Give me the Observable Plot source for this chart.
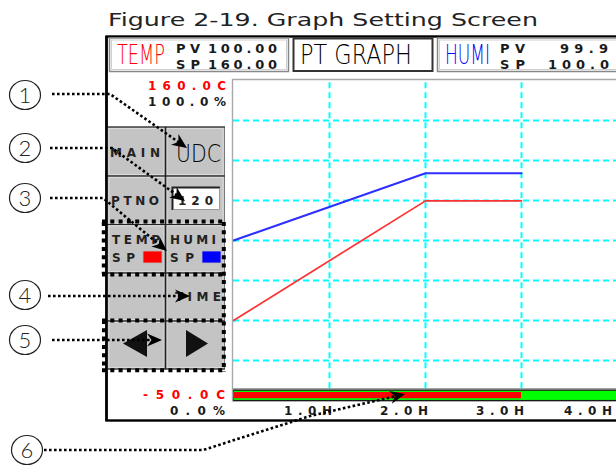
<!DOCTYPE html>
<html><head><meta charset="utf-8">
<script src="https://cdn.jsdelivr.net/npm/d3@7"></script>
<script src="https://cdn.jsdelivr.net/npm/@observablehq/plot@0.6"></script>
<style>
html,body{margin:0;padding:0;background:#fff;overflow:hidden;}
#chart svg{display:block;overflow:hidden;}
</style></head><body><div id="chart"></div>
<script>
// ---- data ----
const hours = [0, 2, 3];
const tempSP = [2.5, 81, 81];          // °C
const humiSP = [50, 71, 71];           // %
const tempRange = [-50, 160];          // °C axis range
const humiRange = [0, 100];            // % axis range
const timeDomain = [0, 4];
const xTicks = [1, 2, 3, 4];
const xTickLabels = ["1.0H", "2.0H", "3.0H", "4.0H"];
const yGridPct = [12.5, 25, 37.5, 50, 62.5, 75, 87.5];
const progressHours = 3;
const title = "Figure 2-19. Graph Setting Screen";
const tempHeader = {name: "TEMP", pv: "100.00", sp: "160.00"};
const humiHeader = {name: "HUMI", pv: "99.9", sp: "100.0"};
const centerHeader = "PT GRAPH";
const yLabels = {tempTop: "160.0C", humiTop: "100.0%", tempBottom: "-50.0C", humiBottom: "0.0%"};
const callouts = ["1", "2", "3", "4", "5", "6"];

// ---- derived ----
const tempPct = t => (t - tempRange[0]) / (tempRange[1] - tempRange[0]) * 100;
const tempData = hours.map((h, i) => ({h, v: tempPct(tempSP[i])}));
const humiData = hours.map((h, i) => ({h, v: (humiSP[i] - humiRange[0]) / (humiRange[1] - humiRange[0]) * 100}));

const plot = Plot.plot({
  width: 616, height: 467, margin: 0,
  style: {background: "white", fontFamily: "DejaVu Sans", overflow: "hidden"},
  x: {domain: timeDomain, range: [233, 617], axis: null},
  y: {domain: [0, 100], range: [400, 80], axis: null},
  marks: [
    Plot.ruleY(yGridPct, {x1: 0, x2: 4.2, stroke: "#00ffff", strokeWidth: 2, strokeDasharray: "6,4"}),
    Plot.ruleX(xTicks, {y1: 3.7, y2: 100, stroke: "#00ffff", strokeWidth: 2, strokeDasharray: "6,4"}),
    Plot.rect([{a: 0, b: 4.2}], {x1: "a", x2: "b", y1: -0.2, y2: 3.1, fill: "#00ff00", stroke: "#1a1a1a", strokeWidth: 1.4}),
    Plot.rect([{a: 0, b: progressHours}], {x1: "a", x2: "b", y1: 0.55, y2: 2.5, fill: "#ff0000"}),
    Plot.line(humiData, {x: "h", y: "v", stroke: "#2f2fff", strokeWidth: 2}),
    Plot.line(tempData, {x: "h", y: "v", stroke: "#ff3030", strokeWidth: 1.7})
  ]
});
document.getElementById("chart").appendChild(plot);

const X = plot.scale("x"), Y = plot.scale("y");
const svg = d3.select(plot);
const g = svg.append("g");

function txt(x, y, s, o = {}) {
  const t = g.append("text").attr("x", x).attr("y", y).text(s)
    .attr("font-family", o.family || "DejaVu Sans")
    .attr("font-size", o.size || 11)
    .attr("font-weight", o.weight || "normal")
    .attr("fill", o.fill || "#1a1a1a")
    .attr("text-anchor", o.anchor || "start");
  if (o.len && o.adj === "spacingAndGlyphs") {
    // condense/stretch glyphs with a transform so the box matches the drawn text
    t.attr("x", 0).attr("y", 0);
    const w = t.node().getComputedTextLength();
    t.attr("transform", `translate(${x},${y}) scale(${o.len / w},1)`);
  } else if (o.len) {
    t.attr("textLength", o.len).attr("lengthAdjust", "spacing");
  }
  return t;
}
function rect(x, y, w, h, o = {}) {
  return g.append("rect").attr("x", x).attr("y", y).attr("width", w).attr("height", h)
    .attr("fill", o.fill || "none").attr("stroke", o.stroke || "none").attr("stroke-width", o.sw || 1);
}
function line(pts, o = {}) {
  return g.append("path").attr("d", d3.line()(pts)).attr("fill", "none")
    .attr("stroke", o.stroke || "#000").attr("stroke-width", o.sw || 1)
    .attr("stroke-dasharray", o.dash || null);
}

// title
txt(108, 26, title, {size: 18.5, len: 430, adj: "spacingAndGlyphs", fill: "#222"});

// outer screen frame
rect(106.5, 36.5, 560, 384, {stroke: "#000", sw: 2.4});

// header boxes
rect(109.5, 38, 179, 33.5, {stroke: "#888", sw: 1.5});
rect(111.5, 40, 175, 29.5, {stroke: "#d0d0d0", sw: 1});
rect(293.5, 38.5, 139, 32.5, {stroke: "#333", sw: 2});
rect(437.5, 38, 200, 33.5, {stroke: "#888", sw: 1.5});
rect(439.5, 40, 200, 29.5, {stroke: "#d0d0d0", sw: 1});

const cond = {size: 26, adj: "spacingAndGlyphs", weight: 300};
const pix = {size: 13, weight: "bold"};
txt(117, 64, tempHeader.name, {...cond, len: 48, fill: "#ff0000"});
txt(176, 53, "PV", {...pix, len: 24});
txt(208, 53, tempHeader.pv, {...pix, len: 69});
txt(176, 69, "SP", {...pix, len: 24});
txt(208, 69, tempHeader.sp, {...pix, len: 69});
txt(300, 64, centerHeader, {...cond, len: 112, fill: "#000"});
txt(445, 64, humiHeader.name, {...cond, len: 45, fill: "#0000ff"});
txt(500, 53, "PV", {...pix, len: 25});
txt(500, 69, "SP", {...pix, len: 25});
txt(560, 53, humiHeader.pv, {...pix, len: 48});
txt(548, 69, humiHeader.sp, {...pix, len: 61});

// plot area borders
line([[232.5, 79.5], [620, 79.5]], {stroke: "#a8a8a8", sw: 1.4});
line([[232.5, 79], [232.5, 401]], {stroke: "#a8a8a8", sw: 1.4});
line([[232.5, 388.6], [620, 388.6]], {stroke: "#9a9a9a", sw: 1});

// y range labels (via y scale)
const lab = {size: 12, weight: "bold"};
txt(148, Y.apply(100) + 10, yLabels.tempTop, {...lab, len: 78, fill: "#ff0000"});
txt(148, Y.apply(100) + 26, yLabels.humiTop, {...lab, len: 78});
txt(143, Y.apply(0) - 1, yLabels.tempBottom, {...lab, len: 82, fill: "#ff0000"});
txt(170, Y.apply(0) + 15, yLabels.humiBottom, {...lab, len: 55});

// x tick labels (via x scale), kept inside the screen
xTicks.forEach((h, i) => txt(Math.min(X.apply(h) - 45, 564), 415, xTickLabels[i], {...lab, len: 48}));

// button panel
const rows = [127, 176, 224.5, 273, 321, 369];
const cols = [107.5, 165.5, 224.5];
for (let r = 0; r < 5; r++) for (let c = 0; c < 2; c++) {
  rect(cols[c], rows[r], cols[c + 1] - cols[c], rows[r + 1] - rows[r], {fill: "#c4c4c4", stroke: "#777", sw: 1});
  rect(cols[c] + 1.5, rows[r] + 1.5, cols[c + 1] - cols[c] - 3, rows[r + 1] - rows[r] - 3, {stroke: "#dadada", sw: 1});
}
rows.forEach(y => line([[107, y], [225, y]], {stroke: "#222", sw: 1.2}));
line([[165.5, 127], [165.5, 369]], {stroke: "#222", sw: 1.6});
line([[106.5, 36], [106.5, 421]], {stroke: "#000", sw: 2.4});

const btn = {size: 12, weight: "bold", fill: "#222"};
txt(110, 157, "MAIN", {...btn, len: 50});
txt(176, 162, "UDC", {size: 24, weight: 300, adj: "spacingAndGlyphs", len: 45, fill: "#000"});
txt(111, 205, "PTNO", {...btn, len: 48});
rect(172, 187, 48, 23, {fill: "#fff"});
line([[172.5, 210], [172.5, 187.5], [220, 187.5]], {stroke: "#222", sw: 2});
line([[173, 209.5], [219.5, 209.5], [219.5, 188]], {stroke: "#999", sw: 1});
txt(178, 205, "120", {...btn, len: 35});
txt(112, 244, "TEMP", {...btn, len: 48});
txt(112, 262, "SP", {...btn, len: 23});
rect(143, 251, 19, 12, {fill: "#ff0000", stroke: "#bbb", sw: 0.8});
txt(170, 244, "HUMI", {...btn, len: 46});
txt(170, 262, "SP", {...btn, len: 24});
rect(202, 251, 19, 12, {fill: "#0000ff", stroke: "#bbb", sw: 0.8});
txt(175, 301, "TIME", {...btn, len: 46});
g.append("path").attr("d", "M123,343.5L147,330L147,357Z").attr("fill", "#111");
g.append("path").attr("d", "M208,343.5L186,330L186,357Z").attr("fill", "#111");

// dotted highlight boxes
const hd = {stroke: "#000", sw: 4, dash: "4,4.3"};
line([[102, 221.5], [226, 221.5]], hd);
line([[103.8, 222], [103.8, 274]], hd);
line([[102, 274.5], [226, 274.5]], hd);
line([[223.8, 222], [223.8, 372]], hd);
line([[102, 320.5], [226, 320.5]], hd);
line([[104, 320], [104, 372]], hd);
line([[102, 370.3], [226, 370.3]], hd);

// callouts
const centers = [[25, 95], [25, 148], [25, 198], [25, 295], [25, 340], [27, 450]];
const paths = [
  [[52, 94], [110, 94], [187, 148]],
  [[50, 148], [112, 148], [185, 201]],
  [[50, 198], [103, 198], [167, 251]],
  [[48, 296], [190, 296]],
  [[52, 340], [162, 340]],
  [[44, 450], [203, 450], [310, 416], [405, 394]]
];
centers.forEach(([cx, cy], i) => {
  g.append("ellipse").attr("cx", cx).attr("cy", cy).attr("rx", 15.5).attr("ry", 14.5)
    .attr("fill", "#fff").attr("stroke", "#222").attr("stroke-width", 1.2);
  txt(cx, cy + 8, callouts[i], {size: 22, anchor: "middle", fill: "#222", family: "Lato", weight: 300});
});
paths.forEach(p => {
  const tip = p[p.length - 1], prev = p[p.length - 2];
  const ang = Math.atan2(tip[1] - prev[1], tip[0] - prev[0]);
  const back = [tip[0] - 10 * Math.cos(ang), tip[1] - 10 * Math.sin(ang)];
  line([...p.slice(0, -1), back], {stroke: "#000", sw: 2.6, dash: "2.6,2.4"});
  g.append("path").attr("d", "M0,0L-15,-6.5L-10.5,0L-15,6.5Z").attr("fill", "#000")
    .attr("transform", `translate(${tip[0]},${tip[1]}) rotate(${ang * 180 / Math.PI})`);
});
</script></body></html>
